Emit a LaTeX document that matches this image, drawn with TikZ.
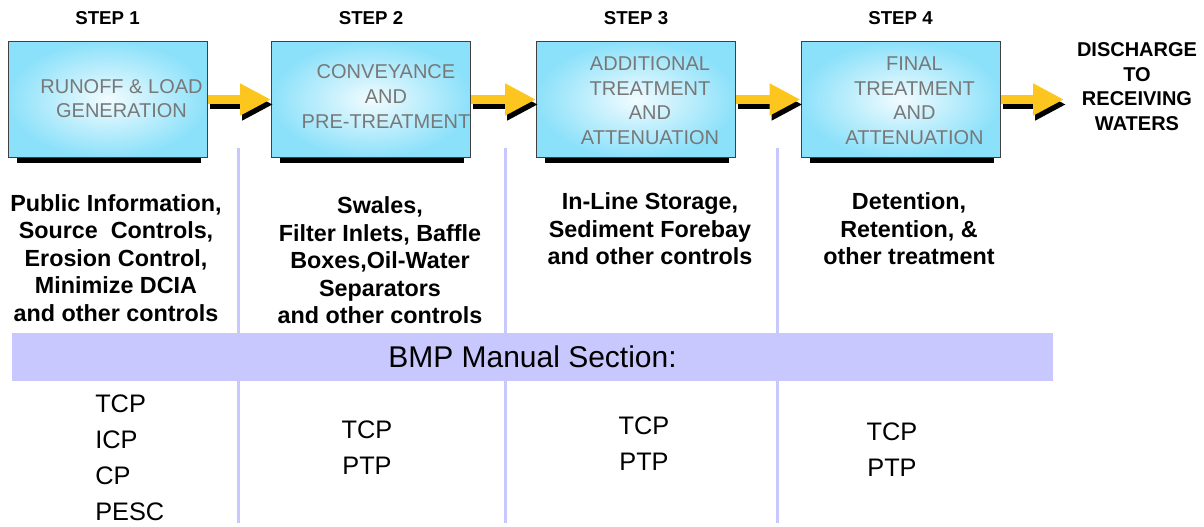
\documentclass[tikz,border=0pt]{standalone}
\usepackage{fontspec}
\setmainfont{Liberation Sans}
\usetikzlibrary{positioning,arrows.meta}
\definecolor{boxcyan}{RGB}{140,225,250}
\definecolor{bandblue}{RGB}{200,200,255}
\definecolor{flowyellow}{RGB}{252,198,30}
\definecolor{boxgray}{RGB}{120,120,120}

\begin{document}
\begin{tikzpicture}[x=.75pt, y=-.75pt,
    stepbox/.style={draw=black!75, line width=.75pt, inner color=boxcyan!12, outer color=boxcyan,
      minimum width=149.25pt, minimum height=87pt, inner sep=0pt},
    boxtext/.style={text=boxgray, font=\fontsize{15}{18.4}\selectfont, align=center, inner sep=0pt},
    steplabel/.style={font=\bfseries\fontsize{14}{16}\selectfont, inner sep=0pt},
    bmptext/.style={font=\bfseries\fontsize{17.5}{20.6}\selectfont, align=center, inner sep=0pt},
    codetext/.style={font=\fontsize{19}{27}\selectfont, align=center, inner sep=0pt},
    band/.style={fill=bandblue, minimum width=780.75pt, minimum height=36pt, inner sep=0pt,
      font=\fontsize{22.5}{27}\selectfont},
    flow/.style={line width=6.75pt, draw=flowyellow, -{Triangle[length=23.25pt, width=22.5pt]}},
    flowshadow/.style={flow, draw=black}]
    \useasboundingbox (0,0) rectangle (1204,527);

    % column dividers
    \foreach \x in {238,505,777}
    \draw[bandblue, line width=2.25pt] (\x,148) -- (\x,523);

    \node[band] (bmp) at (532.5,357) {BMP Manual Section:};

    % the four treatment steps
    \foreach \i/\x in {1/107.5,2/371,3/636,4/900.5}
    \node[stepbox] (b\i) at (\x,99.5) {};
    \foreach \i in {1,...,4}
    \fill ([shift={(9,0)}]b\i.south west) rectangle ([shift={(-7,5)}]b\i.south east);

    \node[boxtext] (t1) at ([shift={(14,-1)}]b1.center) {RUNOFF \& LOAD\\GENERATION};
    \node[boxtext] (t2) at ([shift={(15,-3)}]b2.center) {CONVEYANCE\\AND\\PRE-TREATMENT};
    \node[boxtext] (t3) at ([shift={(14,1)}]b3.center) {ADDITIONAL\\TREATMENT\\AND\\ATTENUATION};
    \node[boxtext] (t4) at ([shift={(14,1)}]b4.center) {FINAL\\TREATMENT\\AND\\ATTENUATION};

    \foreach \i in {1,...,4}
    \node[steplabel, above=12pt of b\i] (s\i) {STEP \i};

    \node[font=\bfseries\fontsize{15}{18.4}\selectfont, align=center, inner sep=0pt]
      (dis) at (1137,86.5) {DISCHARGE\\TO\\RECEIVING\\WATERS};
    \coordinate (out) at (1064,99.5);

    % flow arrows with shadow
    \foreach \i/\j in {1/2,2/3,3/4} {
      \draw[flowshadow] ([shift={(2,5)}]b\i.east) -- ([shift={(2,5)}]b\j.west);
      \draw[flow] (b\i.east) -- (b\j.west);
    }
    \draw[flowshadow] ([shift={(2,5)}]b4.east) -- ([shift={(2,5)}]out);
    \draw[flow] (b4.east) -- (out);

    % controls
    \node[bmptext] (m1) at (116,258) {Public Information,\\Source~ Controls,\\Erosion Control,\\Minimize DCIA\\and other controls};
    \node[bmptext] (m2) at (380,260.5) {Swales,\\Filter Inlets, Baffle\\Boxes,Oil-Water\\Separators\\and other controls};
    \node[bmptext] (m3) at (650,229) {In-Line Storage,\\Sediment Forebay\\and other controls};
    \node[bmptext] (m4) at (909,229) {Detention,\\Retention, \&\\other treatment};

    % manual sections
    \node[codetext, anchor=west, align=left] (c1) at (95,458) {TCP\\ICP\\CP\\PESC};
    \node[codetext] (c2) at (367,447.5) {TCP\\PTP};
    \node[codetext] (c3) at (644,443.5) {TCP\\PTP};
    \node[codetext] (c4) at (892,449.5) {TCP\\PTP};

  \end{tikzpicture}
\end{document}
